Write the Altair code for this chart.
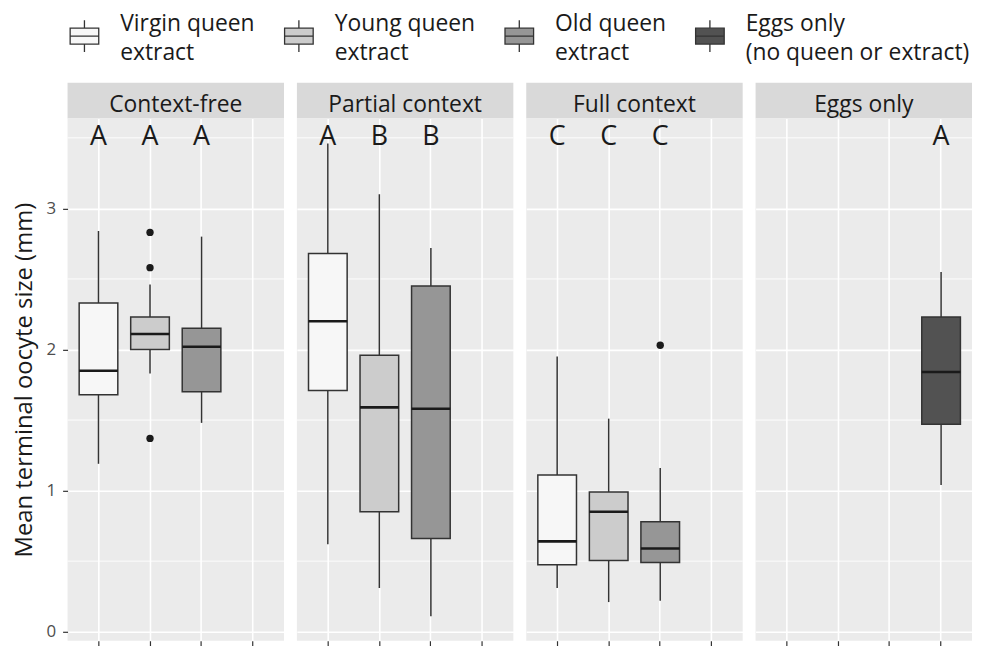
import altair as alt
import pandas as pd

# ---------------- data ----------------
panels = ["Context-free", "Partial context", "Full context", "Eggs only"]
groups = ["Virgin queen extract", "Young queen extract", "Old queen extract",
          "Eggs only (no queen or extract)"]
group_lines = [["Virgin queen", "extract"], ["Young queen", "extract"],
               ["Old queen", "extract"], ["Eggs only", "(no queen or extract)"]]
fills = ["#F7F7F7", "#CCCCCC", "#969696", "#525252"]

box_panel = ["Context-free"] * 3 + ["Partial context"] * 3 + ["Full context"] * 3 + ["Eggs only"]
box_group = groups[:3] * 3 + [groups[3]]
whisk_low = [1.19, 1.83, 1.48, 0.62, 0.31, 0.11, 0.31, 0.21, 0.22, 1.04]
q1 = [1.68, 2.00, 1.70, 1.71, 0.85, 0.66, 0.475, 0.505, 0.49, 1.47]
median = [1.85, 2.11, 2.02, 2.20, 1.59, 1.58, 0.64, 0.85, 0.59, 1.84]
q3 = [2.33, 2.23, 2.15, 2.68, 1.96, 2.45, 1.11, 0.99, 0.78, 2.23]
whisk_high = [2.84, 2.46, 2.80, 3.46, 3.10, 2.72, 1.95, 1.51, 1.16, 2.55]

out_panel = ["Context-free"] * 3 + ["Full context"]
out_group = [groups[1]] * 3 + [groups[2]]
out_value = [2.83, 2.58, 1.37, 2.03]

letters = ["A", "A", "A", "A", "B", "B", "C", "C", "C", "A"]

y_major = [0, 1, 2, 3]
y_minor = [0.5, 1.5, 2.5, 3.5]
y_domain = [-0.064, 3.637]

boxes = pd.DataFrame({"panel": box_panel, "group": box_group, "lower": whisk_low,
                      "q1": q1, "median": median, "q3": q3, "upper": whisk_high,
                      "letter": letters})
outliers = pd.DataFrame({"panel": out_panel, "group": out_group, "value": out_value})
minor = pd.DataFrame({"v": y_minor})

# ---------------- style ----------------
FONT = "Open Sans"
W, H, STRIP_H = 218, 526, 36
DARK = "#333333"

label_expr = " : ".join(
    f"datum.label == '{g}' ? ['{a}', '{b}']" for g, (a, b) in zip(groups, group_lines)
) + " : datum.label"

box_path = "M-0.9,-0.5H0.9V0.5H-0.9Z M-0.9,0H0.9 M0,-0.5V-1 M0,0.5V1"

x_scale = alt.Scale(domain=groups, paddingInner=0, paddingOuter=0.1)
y_scale = alt.Scale(domain=y_domain, nice=False, zero=False)


def x_enc():
    return alt.X("group:N", scale=x_scale,
                 axis=alt.Axis(labels=False, title=None, domain=False, ticks=True,
                               tickColor=DARK, tickSize=5, tickWidth=1.2,
                               grid=True, gridColor="white", gridWidth=1.6,
                               bandPosition=0.5))


def y_axis(first):
    if first:
        return alt.Axis(values=y_major, title="Mean terminal oocyte size (mm)",
                        domain=False, ticks=True, tickSize=5, tickColor=DARK,
                        tickWidth=1.2, labelPadding=7, titlePadding=10,
                        grid=True, gridColor="white", gridWidth=1.6, format="d")
    return alt.Axis(values=y_major, title=None, labels=False, ticks=False,
                    domain=False, grid=True, gridColor="white", gridWidth=1.6)


def panel_chart(p, first):
    b = boxes[boxes.panel == p]
    o = outliers[outliers.panel == p]
    ax = y_axis(first)
    ytitle = "Mean terminal oocyte size (mm)"

    def Y(field):
        return alt.Y(field, scale=y_scale, axis=ax, title=ytitle if first else None)

    grid_minor = alt.Chart(minor).mark_rule(color="white", strokeWidth=0.9).encode(
        y=Y("v:Q"))
    whisk = alt.Chart(b).mark_rule(color=DARK, strokeWidth=1.5).encode(
        x=x_enc(), y=Y("lower:Q"), y2="upper:Q")
    box = alt.Chart(b).mark_bar(width=alt.RelativeBandSize(0.75), stroke=DARK,
                                strokeWidth=1.5, opacity=1).encode(
        x=x_enc(), y=Y("q1:Q"), y2="q3:Q",
        fill=alt.Fill("group:N", scale=alt.Scale(domain=groups, range=fills),
                      legend=alt.Legend(title=None, orient="top", direction="horizontal",
                                        symbolType=box_path, symbolSize=1024,
                                        symbolStrokeColor=DARK, symbolStrokeWidth=1.3,
                                        labelFont=FONT, labelFontSize=23,
                                        labelColor="#1a1a1a", labelLimit=0,
                                        labelOffset=19, columnPadding=27,
                                        labelBaseline="bottom",
                                        labelExpr=label_expr)))
    med = alt.Chart(b).mark_tick(color="#1a1a1a", thickness=2.6, size=39,
                                 opacity=1).encode(
        x=x_enc(), y=Y("median:Q"))
    layers = [grid_minor, whisk, box, med]
    if len(o):
        pts = alt.Chart(o).mark_circle(size=55, color="#1a1a1a", opacity=1).encode(
            x=x_enc(), y=Y("value:Q"))
        layers.append(pts)
    txt = alt.Chart(b).mark_text(fontSize=27, font=FONT, color="#1a1a1a",
                                 baseline="middle").encode(
        x=x_enc(), y=alt.value(19), text="letter:N")
    layers.append(txt)
    body = alt.layer(*layers).properties(width=W, height=H)

    strip = alt.Chart(pd.DataFrame({"panel": [p]})).mark_text(
        fontSize=23, font=FONT, color="#1a1a1a", dy=4).encode(text="panel:N").properties(
        width=W, height=STRIP_H, view=alt.ViewBackground(fill="#D9D9D9", stroke=None))
    return alt.vconcat(strip, body, spacing=0)


chart = alt.hconcat(*[panel_chart(p, i == 0) for i, p in enumerate(panels)],
                    spacing=11).properties(
    padding={"left": 4, "top": 9, "right": 0, "bottom": 0}
)
chart = chart.configure(style={"guide-label": {"lineHeight": 29}})
chart = chart.configure_view(fill="#EBEBEB", stroke=None).configure_axis(
    labelFont=FONT, labelFontSize=17, labelColor="#4D4D4D",
    titleFont=FONT, titleFontSize=24, titleColor="#1a1a1a", titleFontWeight="normal"
).configure_legend(offset=18)

chart.save("out.html", embed_options={"renderer": "svg", "actions": False})
